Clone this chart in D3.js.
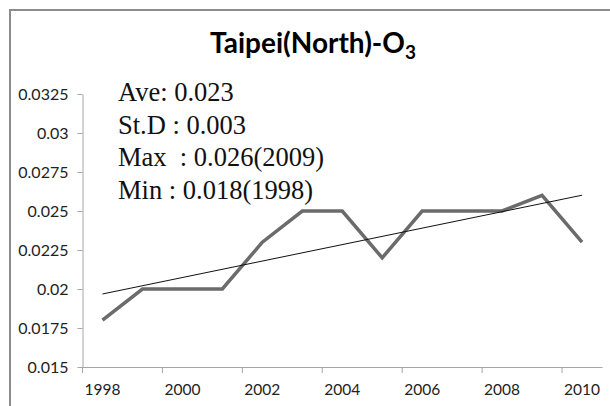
<!DOCTYPE html>
<html>
<head>
<meta charset="utf-8">
<script src="https://cdn.jsdelivr.net/npm/d3@7"></script>
<style>
  html, body { margin: 0; padding: 0; background: #fff; }
  svg { display: block; }
  .stat { white-space: pre; }
</style>
</head>
<body>
<svg id="chart" width="610" height="406"></svg>
<script>
// ---- data ----
const years = [1998, 1999, 2000, 2001, 2002, 2003, 2004, 2005, 2006, 2007, 2008, 2009, 2010];
const o3 = [0.018, 0.020, 0.020, 0.020, 0.023, 0.025, 0.025, 0.022, 0.025, 0.025, 0.025, 0.026, 0.023];
const xTickYears = [1998, 2000, 2002, 2004, 2006, 2008, 2010];
const yTicks = [0.015, 0.0175, 0.02, 0.0225, 0.025, 0.0275, 0.03, 0.0325];
const yTickLabels = ["0.015", "0.0175", "0.02", "0.0225", "0.025", "0.0275", "0.03", "0.0325"];
const titleMain = "Taipei(North)-O";
const titleSub = "3";
const statLines = ["Ave: 0.023", "St.D : 0.003", "Max  : 0.026(2009)", "Min : 0.018(1998)"];

// ---- layout ----
const svg = d3.select("#chart");
const plot = { left: 82.5, right: 602, top: 94, bottom: 367 };

// frame
svg.append("rect")
  .attr("x", 10).attr("y", 10).attr("width", 640).attr("height", 440)
  .attr("fill", "none").attr("stroke", "#8c8c8c").attr("stroke-width", 2);

const x = d3.scaleBand().domain(years).range([plot.left, plot.right]).padding(0);
const bw = x.bandwidth();
const cx = d => x(d) + bw / 2;
const y = d3.scaleLinear().domain([0.015, 0.0325]).range([plot.bottom, plot.top]);

// y axis
const yAxis = svg.append("g")
  .attr("transform", `translate(${plot.left},0)`)
  .call(d3.axisLeft(y).tickValues(yTicks)
    .tickFormat((d, i) => yTickLabels[i])
    .tickSizeOuter(0).tickSizeInner(5).tickPadding(9));
yAxis.select(".domain").attr("stroke", "#a6a6a6");
yAxis.selectAll(".tick line").attr("stroke", "#a6a6a6");
yAxis.selectAll(".tick text")
  .attr("font-family", "Lato, 'Open Sans', sans-serif")
  .attr("font-size", 16).attr("fill", "#222");

// x axis
const xAxis = svg.append("g")
  .attr("transform", `translate(0,${plot.bottom})`)
  .call(d3.axisBottom(x).tickValues(xTickYears).tickSizeOuter(0).tickSizeInner(6).tickPadding(11));
xAxis.select(".domain").attr("stroke", "#a6a6a6");
xAxis.selectAll(".tick line").attr("stroke", "#a6a6a6").attr("x1", -bw / 2).attr("x2", -bw / 2);
xAxis.selectAll(".tick text")
  .attr("font-family", "Lato, 'Open Sans', sans-serif")
  .attr("font-size", 15.5).attr("fill", "#222");

// data line
const line = d3.line().x((d, i) => cx(years[i])).y(d => y(d));
svg.append("path")
  .datum(o3)
  .attr("d", line)
  .attr("fill", "none")
  .attr("stroke", "#6b6b6b")
  .attr("stroke-width", 3.5)
  .attr("stroke-linejoin", "miter");

// linear trend line (least squares on the series)
const n = years.length;
const mx = d3.mean(years), my = d3.mean(o3);
const sxy = d3.sum(years, (yr, i) => (yr - mx) * (o3[i] - my));
const sxx = d3.sum(years, yr => (yr - mx) * (yr - mx));
const slope = sxy / sxx, intercept = my - slope * mx;
const ends = [years[0], years[n - 1]];
svg.append("path")
  .datum(ends)
  .attr("d", d3.line().x(d => cx(d)).y(d => y(intercept + slope * d)))
  .attr("fill", "none")
  .attr("stroke", "#111")
  .attr("stroke-width", 1);

// title
const title = svg.append("text")
  .attr("x", 313).attr("y", 53)
  .attr("text-anchor", "middle")
  .attr("font-family", "Lato, 'Open Sans', sans-serif")
  .attr("font-weight", "bold")
  .attr("font-size", 28)
  .attr("fill", "#000");
title.append("tspan").text(titleMain);
title.append("tspan").attr("font-size", 19).attr("dy", 6).text(titleSub);

// stats annotation
svg.append("g").selectAll("text")
  .data(statLines)
  .join("text")
  .attr("class", "stat")
  .attr("x", 118)
  .attr("y", (d, i) => 101 + i * 32.5)
  .attr("font-family", "'Liberation Serif', 'Times New Roman', serif")
  .attr("font-size", 26.5)
  .attr("fill", "#111")
  .text(d => d);
</script>
</body>
</html>
